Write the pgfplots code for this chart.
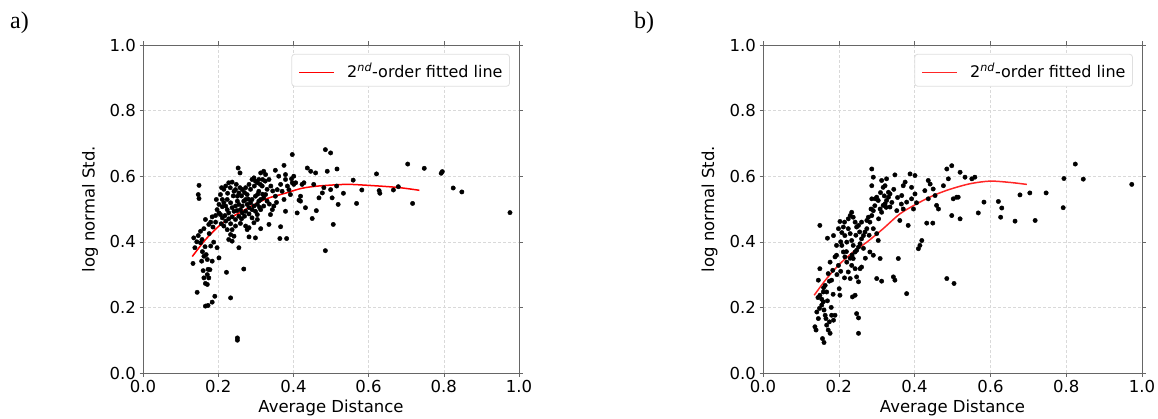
\documentclass[border=0pt]{standalone}
\usepackage{fontspec}
\setmainfont{DejaVu Sans}
\newfontfamily\serifx{Liberation Serif}
\usepackage{pgfplots}
\pgfplotsset{compat=1.18}
\newcommand{\fs}{\fontsize{16.5}{19}\selectfont}
\newcommand{\legbox}[1]{\node[draw=gray!25, line width=0.8pt, rounded corners=3pt, fill=white, anchor=north east,
    inner xsep=7pt, minimum height=32pt, font=\fontsize{16}{19}\selectfont]
    at (axis description cs:0.976,0.973)
    {\tikz[baseline=-0.6ex]\draw[#1, line width=1.5pt] (0,0) -- (35pt,0);\hspace{12pt}2\textsuperscript{\textit{nd}}-order fitted line};}
\pgfplotsset{mystyle/.style={
  scale only axis, height=328pt,
  xmin=0, xmax=1, ymin=0, ymax=1,
  xtick={0,0.2,0.4,0.6,0.8,1.0}, ytick={0,0.2,0.4,0.6,0.8,1.0},
  xticklabels={0.0,0.2,0.4,0.6,0.8,1.0},
  yticklabels={0.0,0.2,0.4,0.6,0.8,1.0},
  tick label style={font=\fs},
  label style={font=\fs},
  tick align=outside, major tick length=3.5pt,
  tick style={gray!80!black, line width=0.6pt},
  axis line style={gray!80!black, line width=0.8pt},
  grid=major, grid style={dash pattern=on 3pt off 2pt, gray!30, line width=0.6pt},
  xlabel={Average Distance}, ylabel={log normal Std.},
  xlabel style={at={(axis description cs:0.5,-0.119)}, anchor=base},
  ylabel style={at={(axis description cs:-0.141,0.5)}, anchor=center},
}}
\begin{document}
\begin{tikzpicture}
\useasboundingbox (0,0) rectangle (1158pt,418pt);
\node[anchor=base west, inner sep=0pt, font=\serifx\fontsize{24}{28}\selectfont] at (10pt,389pt) {a)};
\node[anchor=base west, inner sep=0pt, font=\serifx\fontsize{24}{28}\selectfont] at (634pt,389pt) {b)};
\begin{axis}[mystyle, width=376pt, at={(143pt,45pt)}, anchor=south west]
\addplot[only marks, mark=*, mark size=2.2pt, black] coordinates {
(0.149,0.572)(0.147,0.544)(0.149,0.532)(0.135,0.412)(0.147,0.419)(0.138,0.382)(0.153,0.397)(0.157,0.407)
(0.133,0.334)(0.156,0.341)(0.162,0.356)(0.168,0.361)(0.171,0.346)(0.173,0.316)(0.171,0.300)(0.175,0.290)
(0.166,0.273)(0.171,0.270)(0.162,0.290)(0.144,0.246)(0.166,0.204)(0.173,0.206)(0.184,0.216)(0.191,0.234)
(0.180,0.387)(0.184,0.341)(0.188,0.399)(0.197,0.382)(0.202,0.351)(0.166,0.468)(0.175,0.453)(0.180,0.460)
(0.184,0.476)(0.193,0.480)(0.197,0.498)(0.195,0.529)(0.202,0.514)(0.206,0.544)(0.209,0.565)(0.211,0.507)
(0.202,0.488)(0.162,0.440)(0.153,0.432)
(0.220,0.570)(0.228,0.580)(0.237,0.582)(0.242,0.554)(0.246,0.559)(0.251,0.539)(0.255,0.549)(0.264,0.559)
(0.273,0.565)(0.277,0.544)(0.282,0.575)(0.290,0.590)(0.295,0.595)(0.299,0.585)(0.304,0.580)(0.308,0.590)
(0.313,0.610)(0.321,0.615)(0.326,0.605)(0.317,0.570)(0.308,0.554)(0.299,0.539)(0.290,0.529)(0.286,0.519)
(0.282,0.504)(0.273,0.493)(0.264,0.488)(0.255,0.478)(0.246,0.468)(0.237,0.476)(0.228,0.488)(0.224,0.498)
(0.220,0.509)(0.215,0.519)(0.211,0.529)(0.224,0.529)(0.233,0.519)(0.237,0.504)(0.242,0.493)(0.246,0.509)
(0.251,0.524)(0.255,0.514)(0.259,0.498)(0.264,0.509)(0.268,0.524)(0.273,0.529)(0.277,0.514)(0.290,0.498)
(0.295,0.509)(0.299,0.493)(0.304,0.514)(0.308,0.524)(0.313,0.529)(0.321,0.534)(0.326,0.544)(0.330,0.524)
(0.321,0.509)(0.313,0.498)(0.304,0.483)(0.304,0.468)(0.290,0.473)(0.282,0.443)(0.273,0.448)(0.277,0.437)
(0.259,0.456)(0.246,0.448)(0.237,0.437)(0.233,0.422)(0.242,0.417)(0.228,0.407)(0.255,0.382)(0.237,0.402)
(0.224,0.437)(0.215,0.448)(0.220,0.463)(0.211,0.473)(0.206,0.483)
(0.233,0.229)(0.268,0.317)(0.222,0.307)(0.251,0.107)(0.251,0.100)(0.253,0.625)(0.258,0.610)
(0.299,0.412)(0.282,0.415)(0.313,0.440)(0.335,0.453)(0.339,0.483)(0.344,0.498)(0.348,0.509)(0.352,0.539)
(0.357,0.559)(0.352,0.618)(0.361,0.600)(0.366,0.575)(0.370,0.554)(0.375,0.633)(0.379,0.605)(0.379,0.590)
(0.384,0.570)(0.388,0.559)(0.392,0.544)(0.397,0.666)(0.397,0.580)(0.401,0.575)(0.375,0.529)(0.379,0.493)
(0.366,0.446)(0.364,0.410)(0.382,0.410)(0.410,0.488)(0.415,0.527)(0.419,0.539)(0.423,0.575)(0.428,0.580)
(0.432,0.504)(0.437,0.625)(0.446,0.615)(0.450,0.471)(0.454,0.575)(0.459,0.610)(0.461,0.495)(0.468,0.534)
(0.477,0.549)(0.481,0.565)(0.485,0.681)(0.490,0.615)(0.499,0.671)(0.499,0.559)(0.503,0.534)(0.506,0.453)
(0.516,0.622)(0.519,0.514)(0.485,0.373)(0.401,0.600)(0.395,0.592)(0.406,0.580)(0.419,0.524)
(0.533,0.548)(0.515,0.570)(0.559,0.588)(0.568,0.517)(0.582,0.558)(0.621,0.607)(0.628,0.556)(0.630,0.548)
(0.666,0.558)(0.679,0.568)(0.704,0.637)(0.748,0.624)(0.717,0.517)(0.793,0.609)(0.796,0.614)(0.825,0.564)
(0.848,0.552)(0.976,0.489)
(0.215,0.560)(0.225,0.548)(0.232,0.565)(0.240,0.540)(0.248,0.575)(0.258,0.565)(0.262,0.540)(0.270,0.550)
(0.280,0.530)(0.286,0.560)(0.296,0.570)(0.305,0.545)(0.312,0.575)(0.318,0.590)(0.325,0.585)(0.318,0.545)
(0.330,0.560)(0.335,0.590)(0.340,0.570)(0.345,0.555)(0.208,0.455)(0.218,0.480)(0.228,0.470)(0.233,0.455)
(0.250,0.495)(0.262,0.470)(0.270,0.478)(0.282,0.485)(0.295,0.458)(0.310,0.505)(0.336,0.515)(0.355,0.520)
(0.176,0.425)(0.186,0.445)(0.193,0.460)(0.165,0.385)(0.158,0.370)(0.143,0.400)(0.178,0.315)(0.160,0.312)
};
\addplot[red, line width=1.5pt, smooth] coordinates {
(0.131,0.355)(0.165,0.405)(0.200,0.446)(0.231,0.472)(0.262,0.492)(0.298,0.515)(0.333,0.533)(0.378,0.548)
(0.422,0.563)(0.466,0.570)(0.537,0.575)(0.586,0.573)(0.675,0.566)(0.735,0.557)
};
\legbox{red}
\end{axis}
\begin{axis}[mystyle, width=379pt, at={(763pt,45pt)}, anchor=south west]
\addplot[only marks, mark=*, mark size=2.2pt, black] coordinates {
(0.137,0.141)(0.140,0.131)(0.146,0.166)(0.142,0.186)(0.149,0.197)(0.155,0.207)(0.159,0.217)(0.161,0.192)
(0.164,0.176)(0.166,0.166)(0.168,0.146)(0.172,0.131)(0.175,0.156)(0.177,0.121)(0.181,0.176)(0.186,0.161)
(0.190,0.176)(0.157,0.105)(0.161,0.093)(0.150,0.237)(0.155,0.225)(0.159,0.247)(0.146,0.283)(0.150,0.318)
(0.164,0.267)(0.168,0.247)(0.172,0.303)(0.177,0.338)(0.181,0.283)(0.184,0.313)(0.190,0.354)(0.194,0.359)
(0.199,0.328)(0.201,0.257)(0.203,0.237)(0.194,0.389)(0.199,0.440)(0.150,0.450)(0.170,0.411)(0.186,0.419)
(0.203,0.462)(0.208,0.428)(0.212,0.445)(0.216,0.419)(0.221,0.399)(0.208,0.389)(0.212,0.369)(0.216,0.354)
(0.221,0.338)(0.225,0.308)(0.230,0.288)(0.234,0.328)(0.238,0.349)(0.243,0.369)(0.247,0.374)(0.252,0.384)
(0.256,0.394)(0.260,0.409)(0.265,0.419)(0.269,0.430)(0.274,0.440)(0.230,0.480)(0.234,0.490)(0.238,0.475)
(0.243,0.460)(0.247,0.445)(0.252,0.450)(0.225,0.440)(0.230,0.425)(0.234,0.404)(0.238,0.389)(0.243,0.318)
(0.247,0.293)(0.252,0.278)(0.256,0.318)(0.243,0.237)(0.236,0.232)(0.247,0.181)(0.252,0.168)(0.252,0.121)
(0.260,0.323)(0.274,0.465)(0.278,0.475)(0.282,0.460)(0.287,0.480)(0.291,0.495)(0.296,0.531)(0.300,0.536)
(0.304,0.526)(0.309,0.500)(0.313,0.490)(0.317,0.511)(0.322,0.516)(0.326,0.526)(0.331,0.536)(0.335,0.546)
(0.291,0.440)(0.300,0.425)(0.304,0.404)(0.282,0.369)(0.291,0.359)(0.309,0.349)(0.300,0.288)(0.313,0.280)
(0.287,0.531)(0.287,0.571)(0.291,0.597)(0.287,0.622)(0.313,0.587)(0.317,0.566)(0.322,0.571)(0.326,0.592)
(0.331,0.551)(0.335,0.506)(0.348,0.604)(0.353,0.495)(0.361,0.465)(0.366,0.541)(0.370,0.571)(0.375,0.582)
(0.379,0.521)(0.383,0.450)(0.388,0.607)(0.392,0.531)(0.397,0.500)(0.401,0.602)(0.392,0.566)(0.357,0.349)
(0.344,0.293)(0.348,0.283)(0.379,0.242)(0.410,0.379)(0.414,0.389)(0.419,0.404)(0.432,0.457)(0.448,0.457)
(0.436,0.587)(0.441,0.576)(0.449,0.561)(0.454,0.541)(0.458,0.511)(0.463,0.500)(0.476,0.571)(0.485,0.622)
(0.489,0.592)(0.498,0.632)(0.502,0.531)(0.511,0.536)(0.515,0.536)(0.520,0.470)(0.498,0.480)(0.520,0.612)
(0.533,0.597)(0.551,0.592)(0.485,0.288)(0.504,0.273)(0.436,0.531)(0.427,0.556)(0.401,0.546)(0.405,0.519)
(0.559,0.597)(0.568,0.488)(0.583,0.521)(0.621,0.523)(0.630,0.503)(0.627,0.475)(0.665,0.463)(0.678,0.543)
(0.704,0.549)(0.718,0.465)(0.747,0.549)(0.794,0.593)(0.792,0.504)(0.824,0.637)(0.845,0.591)(0.973,0.575)
(0.160,0.260)(0.175,0.280)(0.185,0.240)(0.195,0.300)(0.205,0.310)(0.215,0.290)(0.205,0.400)(0.215,0.460)
(0.225,0.470)(0.245,0.420)(0.255,0.430)(0.260,0.460)(0.265,0.380)(0.270,0.350)(0.280,0.420)(0.285,0.500)
(0.295,0.510)(0.305,0.470)(0.310,0.550)(0.320,0.540)(0.325,0.505)(0.340,0.520)(0.345,0.560)(0.355,0.535)
(0.365,0.515)(0.370,0.500)(0.235,0.360)(0.220,0.370)(0.230,0.350)(0.170,0.220)(0.180,0.200)(0.145,0.230)
};
\addplot[red!85!white, line width=1.5pt, smooth] coordinates {
(0.135,0.237)(0.168,0.288)(0.203,0.333)(0.238,0.369)(0.274,0.399)(0.317,0.440)(0.361,0.485)(0.406,0.516)
(0.449,0.541)(0.493,0.560)(0.546,0.577)(0.599,0.585)(0.652,0.581)(0.696,0.575)
};
\legbox{red!85!white}
\end{axis}
\end{tikzpicture}
\end{document}
